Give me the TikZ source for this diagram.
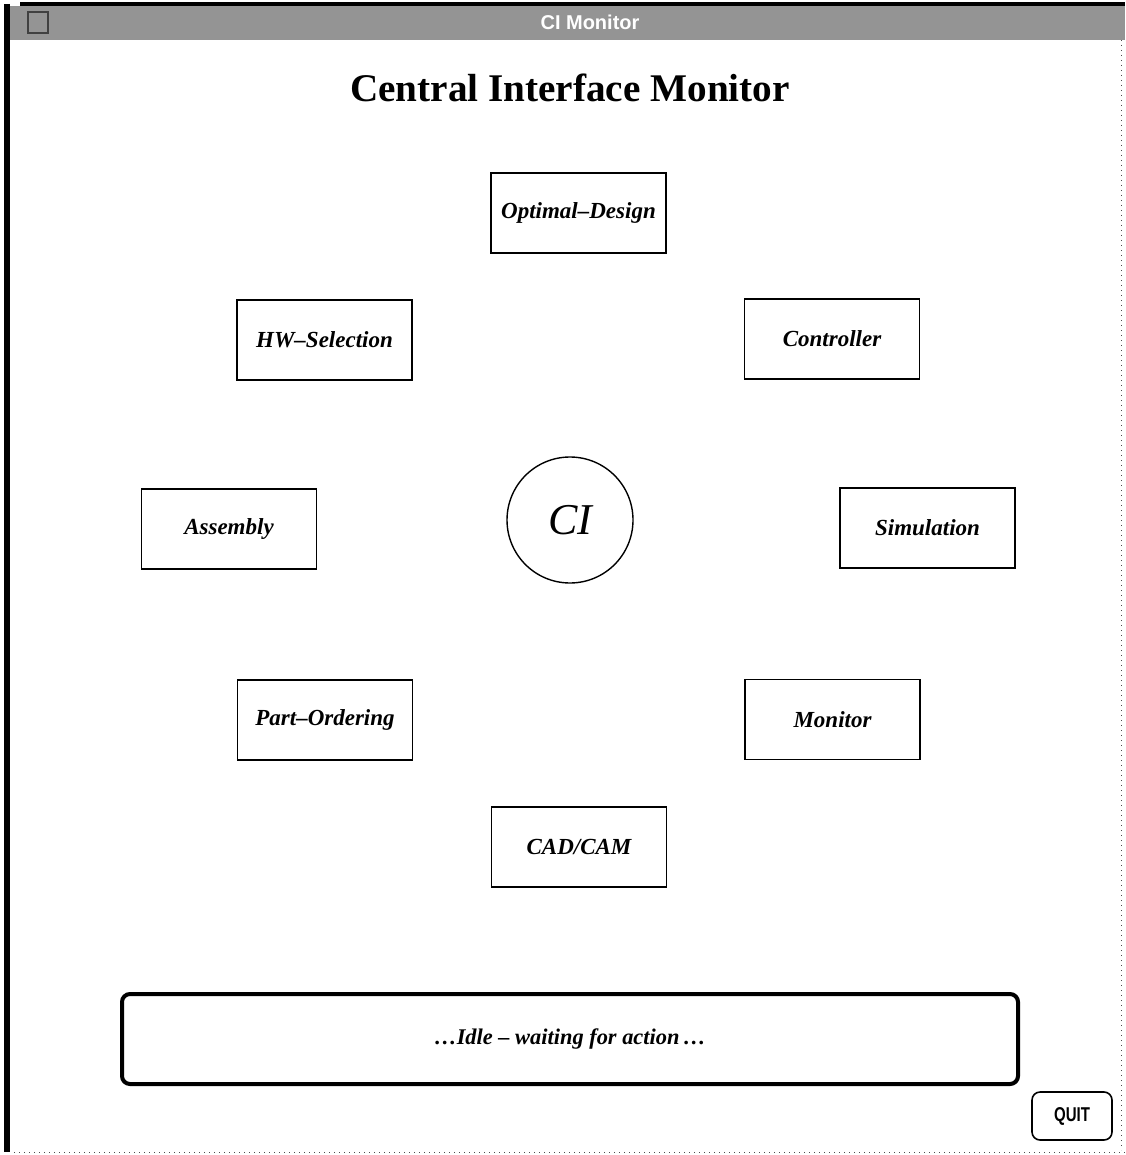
\documentclass[tikz,border=0pt]{standalone}
\usepackage{fontspec}
\setmainfont{Liberation Serif}
\newfontfamily\uisans{Liberation Sans}
\begin{document}
\begin{tikzpicture}[x=0.5pt,y=-0.5pt,
  modbox/.style={draw=black,line width=0.7pt,minimum width=87.5pt,minimum height=40pt,
    inner sep=0pt,font=\fontsize{11.5}{13}\selectfont\bfseries\itshape},
  hub/.style={draw=black,line width=0.7pt,circle,minimum size=63pt,inner sep=0pt,
    font=\fontsize{22}{24}\selectfont\itshape},
  statusbox/.style={draw=black,line width=2pt,rounded corners=4pt,minimum width=448pt,
    minimum height=45pt,inner sep=0pt,font=\fontsize{11.2}{13}\selectfont\bfseries\itshape},
  quitbtn/.style={draw=black,line width=0.8pt,rounded corners=4pt,minimum width=40pt,
    minimum height=24pt,inner sep=0pt,font=\uisans\bfseries\fontsize{10}{12}\selectfont},
  frameline/.style={line width=0.5pt,dotted,black!70}]
\useasboundingbox (0,0) rectangle (1125,1155);
\fill[white] (0,0) rectangle (1125,1155);
% window title bar
\fill[black!42] (8,6) rectangle (1125,40);
\draw[black!75,line width=0.8pt] (28,12) rectangle (48,33);
\node[text=white,font=\uisans\bfseries\fontsize{10}{12}\selectfont] (wtitle) at (590,22) {CI Monitor};
\draw[line width=2pt] (20,4) -- (1125,4);
\draw[line width=3pt] (7,4) -- (7,1152);
\draw[frameline] (14,1152) -- (1125,1152);
\draw[frameline] (1121,40) -- (1121,1150);
% heading
\node[font=\fontsize{19.6}{22}\selectfont\bfseries] (title) at (570,88) {Central Interface Monitor};
% hub and modules
\node[hub] (ci) at (570,520) {CI};
\node[modbox] (opt) at (578.5,213) {Optimal--Design};
\node[modbox] (hw) at (324.5,340) {HW--Selection};
\node[modbox] (ctrl) at (832,339) {Controller};
\node[modbox] (asm) at (229,529) {Assembly};
\node[modbox] (sim) at (927.5,528) {Simulation};
\node[modbox] (po) at (325,720) {Part--Ordering};
\node[modbox] (mon) at (832.5,719.5) {Monitor};
\node[modbox] (cad) at (579,847) {CAD/CAM};
% status line and quit button
\node[statusbox] (status) at (570,1039) {\dots Idle -- waiting for action\,\dots};
\node[quitbtn] (quit) at (1072,1116) {\scalebox{0.75}[1]{QUIT}};
\end{tikzpicture}
\end{document}
